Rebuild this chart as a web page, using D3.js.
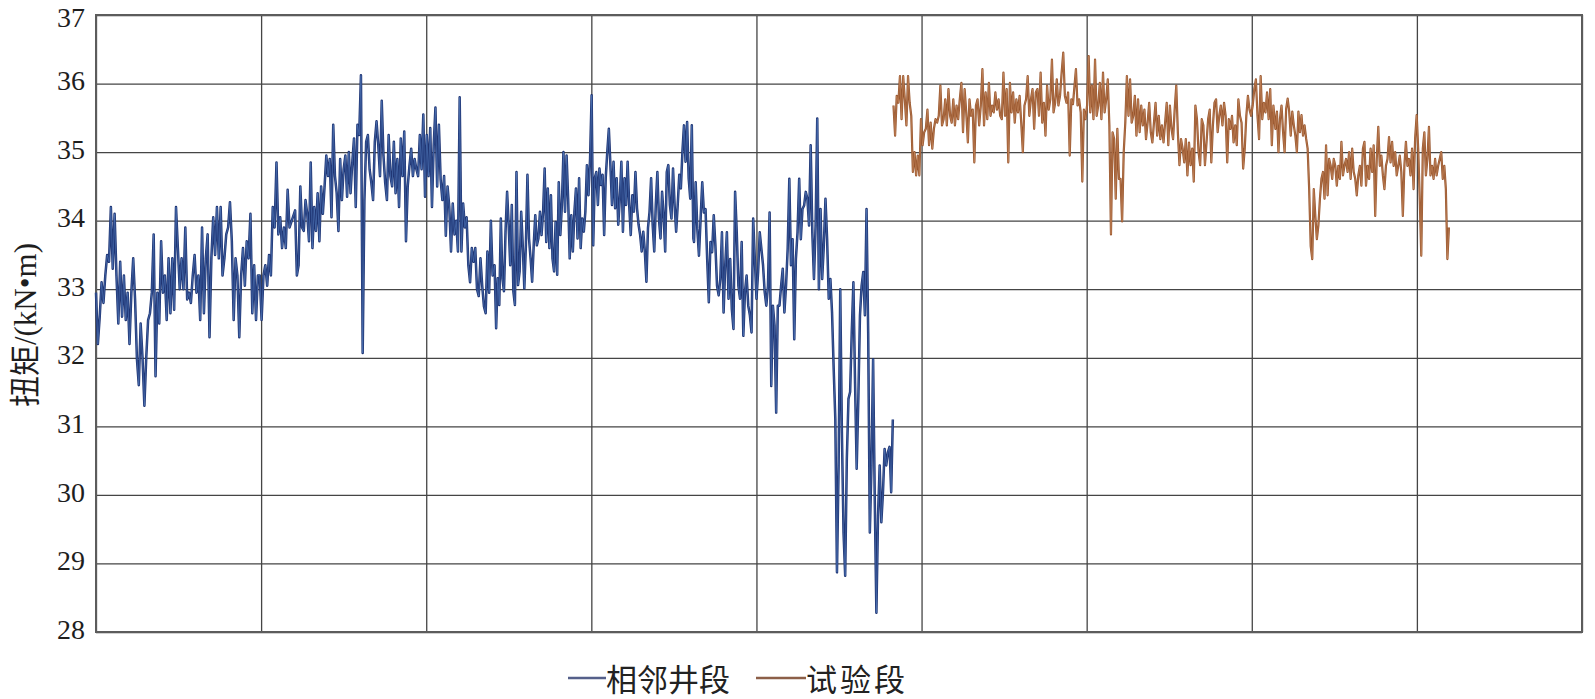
<!DOCTYPE html>
<html><head><meta charset="utf-8">
<script src="https://cdn.jsdelivr.net/npm/d3@7/dist/d3.min.js"></script>
<style>
html,body{margin:0;padding:0;background:#fff;}
svg{display:block;}
</style></head>
<body>
<svg id="chart" width="1595" height="699"></svg>
<script>
// ---- data ----
const yTicks = [28,29,30,31,32,33,34,35,36,37];
const xGrid = [0,1,2,3,4,5,6,7,8,9];
const seriesNames = ["相邻井段","试验段"];
const yTitle = "扭矩/(kN•m)";

// 相邻井段 (blue) — segments, each with its span in grid units
const blueSpans = [[0,1.172],[1.206,2.402],[2.414,3.618],[3.622,4.826]];
const blueA = [32.95,32.2,32.6,33.1,32.8,33.2,33.5,33.4,34.2,33.3,34.1,33.2,32.5,33.4,32.6,33.2,32.55,32.95,32.2,32.95,33.45,32.85,31.98,31.6,32.5,32.0,31.3,32.0,32.55,32.65,32.95,33.8,31.73,32.95,32.5,33.7,32.95,33.2,32.55,33.45,32.65,33.45,32.7,34.2,33.6,33.0,33.45,33.0,33.9,32.85,32.95,32.8,33.2,33.5,32.95,33.2,32.55,33.9,32.65,33.45,33.8,32.3,33.45,34.05,33.5,34.2,33.45,34.2,33.2,33.45,33.8,33.9,34.27,33.7,32.55,33.45,33.2,32.3,33.2,33.6,33.05,33.7,33.45,34.1,32.65,33.35,32.55,33.2,33.2,32.55,33.2,33.35,33.05,33.5,33.2,34.2,33.9,34.85,33.8,34.05,33.6,33.9,33.6,34.45,33.9];
const blueB = [34.15,33.2,33.35,34.5,33.9,33.85,34.3,34.1,33.7,34.85,33.6,34.2,33.85,34.4,33.7,34.5,34.1,34.5,34.95,34.65,34.9,34.05,35.4,34.65,34.4,33.85,34.9,34.3,34.75,34.95,34.35,35.0,34.4,34.85,35.2,34.2,35.4,35.25,36.12,32.07,34.3,35.15,35.25,34.75,34.55,34.3,35.15,35.45,35.1,34.65,35.75,34.95,34.55,34.3,35.25,34.65,34.5,35.15,34.4,34.9,34.2,35.2,34.65,35.3,33.7,34.5,34.8,35.05,34.65,34.9,34.75,34.65,35.25,34.75,35.55,34.35,35.25,34.65,35.35,34.2,35.1,35.65,34.5,35.4,34.6,34.3,34.65,33.78,34.5,34.2,33.55,34.25,33.8,34.0,33.55,35.8,33.55,34.25,33.9,34.05,33.35,33.1,33.6,33.4,33.6,33.0,32.9,33.45,33.05,32.75,32.65,33.55,32.95,34.0,33.2];
const blueC = [33.35,32.43,33.16,32.77,34.03,33.16,32.97,33.84,34.42,33.94,33.35,34.23,32.97,32.77,34.71,33.06,33.26,34.13,33.64,33.01,33.64,34.67,33.74,33.45,33.11,33.64,34.08,33.64,33.74,34.13,33.79,34.13,34.76,33.69,34.47,33.6,34.37,33.45,33.26,33.98,33.21,34.56,33.79,34.23,35.0,34.13,34.95,34.32,33.45,34.08,33.55,34.13,34.47,33.74,34.62,33.6,34.03,33.84,34.13,34.81,34.37,34.9,35.83,33.64,34.62,34.71,34.23,34.76,34.52,34.67,33.79,34.62,35.0,35.34,34.81,34.23,34.86,34.18,34.62,33.94,34.32,34.86,33.84,34.62,34.23,34.86,34.23,33.79,34.37,34.13,34.71,34.18,33.94,33.79,33.55,33.84,33.55,33.11,33.89,34.13,34.62,33.94,33.55,34.23,34.71,34.03,33.74,34.42,34.08,33.55,34.71,34.81,34.23,34.03,34.76,34.23,33.84,34.23,34.67,34.47,35.0,35.39,34.86,35.44,34.62,34.32,35.39,33.74];
const blueD = [33.69,34.56,33.88,33.49,34.03,34.56,34.12,34.17,33.44,32.81,33.69,33.54,34.08,33.64,33.05,32.91,33.15,33.83,32.66,33.35,33.83,32.86,33.44,32.71,32.42,34.42,33.83,33.05,32.86,33.69,32.32,32.96,33.2,32.76,32.62,32.37,34.03,33.44,32.86,33.25,33.83,33.59,33.35,32.96,32.76,33.05,34.12,31.59,32.76,32.47,31.2,32.76,32.76,33.05,33.3,32.66,33.05,33.59,34.61,33.35,33.73,32.27,33.44,33.83,34.61,33.73,34.17,34.22,34.42,34.32,33.93,35.1,33.83,33.15,33.93,35.49,33.0,34.17,33.15,33.64,34.32,33.73,32.86,33.15,32.66,31.84,31.1,28.87,30.43,33.0,30.91,29.45,28.82,30.52,31.4,31.5,32.37,33.1,31.64,30.38,31.4,32.62,33.05,33.25,32.62,34.17,32.37,29.45,30.43,31.98,29.94,28.28,29.7,30.43,29.6,30.04,30.67,30.43,30.62,30.7,30.04,31.1];

// 试验段 (brown)
const brownSpans = [[4.830,5.917],[5.935,7.131],[7.143,8.194]];
const brownA = [35.68,35.24,35.82,35.72,36.11,35.48,36.11,35.77,35.39,36.11,35.72,35.53,34.71,35.0,34.66,34.95,34.66,35.48,35.1,35.29,35.34,35.62,35.1,35.43,35.05,35.34,35.48,35.43,35.53,35.97,35.39,35.48,35.77,35.39,35.92,35.53,35.43,35.77,35.39,35.68,35.48,35.77,36.01,35.29,35.92,35.58,35.14,35.77,35.53,35.62,34.85,35.68,35.77,35.39,35.68,36.21,35.39,35.87,35.48,36.01,35.53,35.68,35.58,35.87,35.62,35.77,35.53,35.48,36.16,35.53,35.92,34.85,36.01,35.58,35.87,35.43,35.77,35.58,35.82,35.43,35.0,35.68,35.77,36.11,35.53,35.77,35.92,35.34,35.87,35.92,35.53,36.16,35.43,35.72,35.24,35.97,35.62,35.77,36.35,35.58,35.72,36.06,35.68,35.82,36.16,36.45,35.82,35.72,35.87,34.95,35.77,35.7];
const brownB = [36.21,35.68,35.77,35.58,34.57,35.62,35.48,35.68,36.4,35.58,35.97,35.48,36.35,35.53,35.68,36.01,35.48,36.16,35.58,35.77,36.06,35.39,33.8,35.29,35.19,34.32,35.34,34.61,34.61,33.99,35.0,35.43,36.11,35.53,36.06,35.43,35.53,35.82,35.24,35.77,35.29,35.68,35.39,35.62,35.19,35.43,35.72,35.29,35.14,35.43,35.72,35.24,35.53,35.19,35.39,35.14,35.43,35.72,35.1,35.68,35.34,35.19,35.62,35.97,35.29,34.81,35.19,35.05,34.85,35.19,34.66,35.14,34.81,35.05,34.57,35.68,35.48,35.0,34.81,35.48,35.39,34.81,35.14,35.48,35.62,34.85,35.39,35.72,35.77,35.29,35.53,35.68,35.39,35.72,35.53,34.85,35.48,35.34,35.53,35.14,35.39,35.1,35.77,35.53,35.43,34.76,35.05,35.53,35.82,35.62,35.53,35.68,35.92,36.06,35.53,35.19,36.11,35.48,35.72,35.58,35.87,35.48,35.92,35.1,35.68];
const brownC = [35.34,35.59,35.0,35.49,35.68,35.29,35.0,35.63,35.78,35.59,35.24,35.59,35.39,35.24,35.0,35.59,35.29,35.54,35.24,35.39,35.2,35.05,34.46,33.63,33.44,34.46,34.07,33.73,33.93,34.32,34.61,34.71,34.32,35.1,34.37,34.9,34.8,34.61,34.9,34.8,34.51,34.8,34.61,35.15,34.66,34.8,34.9,34.71,35.0,34.61,35.05,34.71,34.61,34.37,34.66,34.8,34.51,35.05,35.15,34.51,34.8,34.61,35.05,34.71,35.1,34.07,34.9,35.37,34.8,34.95,34.66,34.46,34.8,34.9,35.22,34.85,35.15,34.8,35.0,34.66,34.8,34.95,34.71,34.07,34.8,35.15,34.8,34.9,34.66,35.05,34.46,35.2,35.54,35.05,34.32,33.49,35.05,35.29,34.66,34.9,35.37,34.66,34.8,34.61,34.9,34.66,34.8,34.9,35.0,34.61,34.8,34.46,33.44,33.9];

(function(){
function buildPoints(segs, spans){
  const pts = [];
  segs.forEach((vals, k) => {
    const [a, b] = spans[k];
    const n = vals.length;
    vals.forEach((v, i) => pts.push({x: a + (b - a) * i / (n - 1), v}));
  });
  return pts;
}
const bluePts = buildPoints([blueA, blueB, blueC, blueD], blueSpans);
const brownPts = buildPoints([brownA, brownB, brownC], brownSpans);

const svg = d3.select("#chart");
const mL = 96, mR = 1582, mT = 15, mB = 632;
const W = mR - mL, H = mB - mT;
const x = d3.scaleLinear().domain([0, 9]).range([mL, mR]);
const y = d3.scaleLinear().domain([28, 37]).range([mB, mT]);
const serif = "'Liberation Serif','Times New Roman','DejaVu Serif',serif";
const yMax = d3.max(yTicks);

svg.append("rect").attr("width",1595).attr("height",699).attr("fill","#fff");

// vertical grid
svg.append("g")
  .attr("transform", `translate(0,${mB})`)
  .call(d3.axisBottom(x).tickValues(xGrid).tickSize(-H).tickFormat(""))
  .call(g => g.select(".domain").remove())
  .call(g => g.selectAll(".tick line").attr("stroke","#454545").attr("stroke-width",1.3));

// horizontal grid + labels
svg.append("g")
  .attr("transform", `translate(${mL},0)`)
  .call(d3.axisLeft(y).tickValues(yTicks).tickSize(-W).tickPadding(11).tickFormat(d3.format("d")))
  .call(g => g.select(".domain").remove())
  .call(g => g.selectAll(".tick line").attr("stroke","#454545").attr("stroke-width",1.3))
  .call(g => g.selectAll(".tick text")
      .style("font-family", serif)
      .style("font-size","28px").attr("fill","#1e1e1e")
      .attr("dy", d => d === yMax ? "0.4em" : "0.22em"));

// frame
svg.append("rect").attr("x",mL).attr("y",mT).attr("width",W).attr("height",H)
  .attr("fill","none").attr("stroke","#5c5c5c").attr("stroke-width",2);

const line = d3.line().x(d => x(d.x)).y(d => y(d.v));

svg.append("path").datum(bluePts).attr("d", line)
  .attr("fill","none").attr("stroke","#1f3574").attr("stroke-width",2.5)
  .attr("stroke-linejoin","round");
svg.append("path").datum(bluePts).attr("d", line)
  .attr("fill","none").attr("stroke","#5a84c6").attr("stroke-width",0.7)
  .attr("stroke-linejoin","round").attr("opacity",0.75);

svg.append("path").datum(brownPts).attr("d", line)
  .attr("fill","none").attr("stroke","#97552d").attr("stroke-width",2.2)
  .attr("stroke-linejoin","round");
svg.append("path").datum(brownPts).attr("d", line)
  .attr("fill","none").attr("stroke","#d69b70").attr("stroke-width",0.6)
  .attr("stroke-linejoin","round").attr("opacity",0.75);

// y title
svg.append("text")
  .attr("transform","translate(25,325) rotate(-90)")
  .attr("text-anchor","middle").attr("dominant-baseline","central")
  .style("font-family","'Liberation Serif','Noto Sans CJK SC',serif")
  .style("font-size","31px").attr("fill","#1e1e1e")
  .text(yTitle);

// legend
const legend = svg.append("g")
  .style("font-family","'Noto Sans CJK SC',sans-serif")
  .style("font-size","31px").attr("fill","#222");
const legItems = [
  {name: seriesNames[0], color:"#55608a", x0:568, x1:606, tx:606, ls:0},
  {name: seriesNames[1], color:"#8c5f48", x0:756, x1:806, tx:806, ls:3}
];
legItems.forEach(it => {
  legend.append("line").attr("x1",it.x0).attr("x2",it.x1).attr("y1",678).attr("y2",678)
    .attr("stroke",it.color).attr("stroke-width",2.4);
  legend.append("text").attr("x",it.tx).attr("y",677).attr("dominant-baseline","central")
    .style("letter-spacing", it.ls + "px")
    .text(it.name);
});
})();
</script>
</body></html>
